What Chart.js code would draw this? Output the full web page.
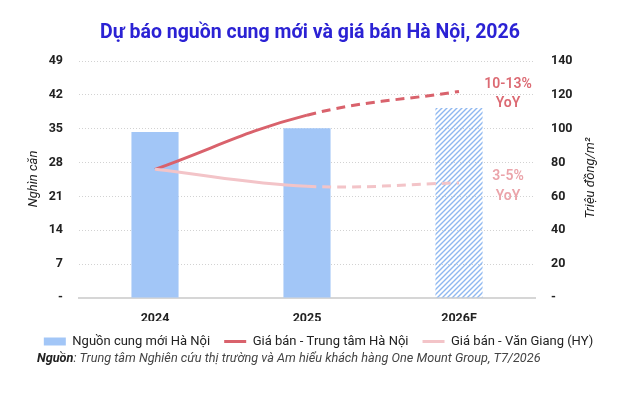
<!DOCTYPE html>
<html>
<head>
<meta charset="utf-8">
<script src="https://cdn.jsdelivr.net/npm/chart.js@4.4.1/dist/chart.umd.min.js"></script>
<style>
  html, body { margin: 0; padding: 0; background: #fff; }
  #wrap { width: 637px; height: 394px; position: relative; }
</style>
</head>
<body>
<div id="wrap"><canvas id="myChart" width="637" height="394"></canvas></div>
<script>
// chart data
var categories = ['2024', '2025', '2026F'];
var supply = [34.3, 35.1, 39.3];          // nghìn căn
var priceCenter = [76, 108, 122];         // triệu đồng/m2
var priceVanGiang = [76, 66, 68];
var leftTicks = [0, 7, 14, 21, 28, 35, 42, 49];
var rightTicks = [0, 20, 40, 60, 80, 100, 120, 140];

// forecast labels next to 2026F (text, value on right axis)
var notes = [
    {text: '10-13%', value: 126, color: '#dc6a73'},
    {text: 'YoY', value: 115, color: '#dc6a73'},
    {text: '3-5%', value: 71.5, color: '#eba4aa'},
    {text: 'YoY', value: 60, color: '#eba4aa'}
];

var FONT = 'Roboto';
var BLUE = '#a2c6f7';

function hatch(color){
    var c = document.createElement('canvas');
    c.width = 5; c.height = 5;
    var g = c.getContext('2d');
    g.strokeStyle = color;
    g.lineWidth = 1.4;
    g.beginPath();
    g.moveTo(0, 5); g.lineTo(5, 0);
    g.moveTo(-1, 1); g.lineTo(1, -1);
    g.moveTo(4, 6); g.lineTo(6, 4);
    g.stroke();
    return g.createPattern(c, 'repeat');
}

var dashAfter2025 = function(ctx){ return ctx.p0DataIndex >= 1 ? [9, 6] : undefined; };

var extras = {
    id: 'extras',
    afterDraw: function(chart){
        var ctx = chart.ctx;
        var x = chart.scales.x, y1 = chart.scales.y1;
        ctx.save();
        // title
        ctx.fillStyle = '#2b22d4';
        ctx.font = 'bold 19.5px ' + FONT;
        ctx.textAlign = 'center';
        ctx.textBaseline = 'middle';
        ctx.fillText('Dự báo nguồn cung mới và giá bán Hà Nội, 2026', 310, 33);

        // axis titles
        ctx.fillStyle = '#222';
        ctx.font = 'italic 13px ' + FONT;
        ctx.save();
        ctx.translate(34, 179); ctx.rotate(-Math.PI / 2);
        ctx.fillText('Nghìn căn', 0, 0);
        ctx.restore();
        ctx.save();
        ctx.translate(591, 178); ctx.rotate(-Math.PI / 2);
        ctx.fillText('Triệu đồng/m²', 0, 0);
        ctx.restore();

        // forecast notes
        ctx.font = '600 14px ' + FONT;
        var nx = x.getPixelForValue(2) + 49;
        notes.forEach(function(n){
            ctx.fillStyle = n.color;
            ctx.fillText(n.text, nx, y1.getPixelForValue(n.value));
        });

        // source
        ctx.textAlign = 'left';
        ctx.fillStyle = '#222';
        ctx.font = 'italic bold 12.7px ' + FONT;
        ctx.fillText('Nguồn', 37, 359);
        var w = ctx.measureText('Nguồn').width;
        ctx.font = 'italic 12.7px ' + FONT;
        ctx.fillStyle = '#444';
        ctx.fillText(': Trung tâm Nghiên cứu thị trường và Am hiểu khách hàng One Mount Group, T7/2026', 37 + w, 359);
        ctx.restore();
    }
};

var ctx = document.getElementById('myChart').getContext('2d');
var myChart = new Chart(ctx, {
    data: {
        labels: categories,
        datasets: [{
            type: 'bar',
            label: 'Nguồn cung mới Hà Nội',
            data: supply,
            yAxisID: 'y',
            backgroundColor: [BLUE, BLUE, hatch('#8fb8f0')],
            borderWidth: 0,
            categoryPercentage: 1,
            barPercentage: 0.31,
            pointStyle: 'rect',
            order: 2
        }, {
            type: 'line',
            label: 'Giá bán - Trung tâm Hà Nội',
            data: priceCenter,
            yAxisID: 'y1',
            borderColor: '#d9626c',
            backgroundColor: '#d9626c',
            borderWidth: 3,
            tension: 0.4,
            pointRadius: 0,
            pointStyle: 'line',
            segment: {borderDash: dashAfter2025},
            order: 1
        }, {
            type: 'line',
            label: 'Giá bán - Văn Giang (HY)',
            data: priceVanGiang,
            yAxisID: 'y1',
            borderColor: '#f3c4c8',
            backgroundColor: '#f3c4c8',
            borderWidth: 3,
            tension: 0.4,
            pointRadius: 0,
            pointStyle: 'line',
            segment: {borderDash: dashAfter2025},
            order: 0
        }]
    },
    options: {
        responsive: false,
        animation: false,
        layout: {padding: {top: 61, bottom: 36, left: 0, right: 0}},
        plugins: {
            tooltip: {enabled: false},
            title: {display: false},
            legend: {
                position: 'bottom',
                labels: {
                    usePointStyle: true,
                    pointStyleWidth: 22,
                    boxHeight: 8,
                    padding: 14,
                    color: '#222',
                    font: {family: FONT, size: 13},
                    sort: function(a, b){ return a.datasetIndex - b.datasetIndex; }
                }
            }
        },
        scales: {
            x: {
                grid: {display: false},
                border: {display: true, color: '#d6d6d6', width: 2},
                ticks: {color: '#222', padding: 5, font: {family: FONT, size: 12.5, weight: 'bold'}},
                afterFit: function(s){ s.height = 23; }
            },
            y: {
                position: 'left',
                min: 0, max: 49,
                afterBuildTicks: function(s){ s.ticks = leftTicks.map(function(v){ return {value: v}; }); },
                grid: {color: '#d2d2d2', drawTicks: false},
                border: {display: false, dash: [1, 2]},
                ticks: {
                    color: '#222', padding: 16,
                    font: {family: FONT, size: 12.5, weight: 'bold'},
                    callback: function(v){ return v === 0 ? '-' : v; }
                },
                afterFit: function(s){ s.width = 79; }
            },
            y1: {
                position: 'right',
                min: 0, max: 140,
                afterBuildTicks: function(s){ s.ticks = rightTicks.map(function(v){ return {value: v}; }); },
                grid: {display: false, drawTicks: false},
                border: {display: false},
                ticks: {
                    color: '#222', padding: 16,
                    font: {family: FONT, size: 12.5, weight: 'bold'},
                    callback: function(v){ return v === 0 ? '-' : v; }
                },
                afterFit: function(s){ s.width = 102; }
            }
        }
    },
    plugins: [extras]
});
</script>
</body>
</html>
